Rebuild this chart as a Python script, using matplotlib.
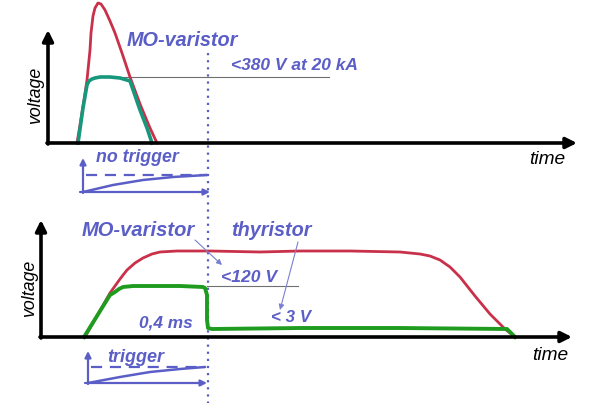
import matplotlib
matplotlib.use("Agg")
import matplotlib.pyplot as plt

W, H = 605, 408
plt.rcParams['font.family'] = ['Liberation Sans', 'DejaVu Sans']

# ---- data (time units / voltage units of each panel) ----
# top panel (no trigger)
top_red_t = [29, 32, 36, 39, 42, 43, 45, 47, 50, 53, 57, 62, 67, 74, 82, 92, 102, 109]
top_red_v = [0, 18, 43, 63, 93, 110, 127, 135, 140, 139, 133, 122, 110, 90, 66, 39, 15, 0]
top_green_t = [30, 35, 39, 41, 44, 47, 52, 62, 72, 82, 92, 99, 104]
top_green_v = [0, 35, 58, 62, 64, 65, 66, 66, 65, 62, 33, 15, 0]
top_ref_t = [59, 281]
top_ref_v = [66, 66]
top_trig_t = [35, 65, 95, 125, 159]
top_trig_v = [-49, -42, -37, -34, -32]
top_trig_level = -32

# bottom panel (trigger)
bot_red_t = [44, 56, 69, 79, 86, 94, 102, 111, 119, 136, 169, 219, 259, 309, 359, 379, 389,
             399, 409, 419, 434, 449, 464, 474]
bot_red_v = [0, 21, 44, 58, 67, 74, 79, 83, 85, 86, 86, 85, 86, 86, 85, 83, 81,
             77, 70, 60, 41, 23, 8, 0]
bot_green_t = [43, 56, 69, 74, 78, 82, 92, 139, 162, 164, 166, 166, 167, 171, 259, 359, 466, 474]
bot_green_v = [0, 21, 42, 45, 48, 50, 51, 51, 50, 49, 42, 17, 9, 8, 9, 9, 8, 0]
bot_ref_t = [166, 257]
bot_ref_v = [51, 51]
bot_trig_t = [47, 79, 109, 139, 164]
bot_trig_v = [-46, -40, -35, -32, -30]
bot_trig_level = -30

RED = '#c9304a'
TEAL = '#17977c'
GREEN = '#1f9c1f'
BLUE = '#5a5ec6'
GRAY = '#707070'

fig = plt.figure(figsize=(W / 100, H / 100), dpi=100)
fig.patch.set_facecolor('white')


def make_axes(left, right, top, base):
    ax = fig.add_axes([left / W, 1 - base / H, (right - left) / W, (base - top) / H])
    ax.set_xlim(0, right - left)
    ax.set_ylim(0, base - top)
    ax.axis('off')
    return ax


def axis_arrows(ax, lw=2.6, ms=16):
    x1, y1 = ax.get_xlim()[1], ax.get_ylim()[1]
    ax.annotate('', xy=(x1, 0), xytext=(-1, 0),
                arrowprops=dict(arrowstyle='-|>', lw=lw, color='black', mutation_scale=ms,
                                shrinkA=0, shrinkB=0), annotation_clip=False)
    ax.annotate('', xy=(0, y1), xytext=(0, -1),
                arrowprops=dict(arrowstyle='-|>', lw=lw, color='black', mutation_scale=ms,
                                shrinkA=0, shrinkB=0), annotation_clip=False)


def trig_inset(ax, t, v, level, x0, x1, ytop):
    kw = dict(arrowstyle='-|>', lw=1.6, color=BLUE, mutation_scale=9, shrinkA=0, shrinkB=0)
    ax.annotate('', xy=(x1, v[0]), xytext=(x0 - 3, v[0]), arrowprops=kw, annotation_clip=False)
    ax.annotate('', xy=(x0, ytop), xytext=(x0, v[0] - 1), arrowprops=kw, annotation_clip=False)
    ax.plot([x0 + 3, t[-1]], [level, level], color=BLUE, lw=1.6, ls=(0, (5, 3.5)), clip_on=False)
    ax.plot(t, v, color=BLUE, lw=1.8, clip_on=False, solid_capstyle='round')


def ftext(x, y, s, **kw):
    fig.text(x / W, 1 - y / H, s, va='center', **kw)


# ---- top panel ----
ax1 = make_axes(48, 577, 30, 143)
axis_arrows(ax1)
ax1.plot(top_ref_t, top_ref_v, color=GRAY, lw=0.8, clip_on=False)
ax1.plot(top_red_t, top_red_v, color=RED, lw=2.0, clip_on=False, solid_joinstyle='round')
ax1.plot(top_green_t, top_green_v, color=TEAL, lw=2.6, clip_on=False, solid_joinstyle='round')
trig_inset(ax1, top_trig_t, top_trig_v, top_trig_level, 35, 162, -15)
# dotted trigger instant line across both panels
ax1.plot([160, 160], [90, -260], color=BLUE, lw=1.6, ls=(0, (1, 2.2)), clip_on=False)

# ---- bottom panel ----
ax2 = make_axes(41, 572, 220, 337)
axis_arrows(ax2)
ax2.plot(bot_ref_t, bot_ref_v, color=GRAY, lw=0.8, clip_on=False)
ax2.plot(bot_red_t, bot_red_v, color=RED, lw=2.0, clip_on=False, solid_joinstyle='round')
ax2.plot(bot_green_t, bot_green_v, color=GREEN, lw=2.8, clip_on=False, solid_joinstyle='round')
trig_inset(ax2, bot_trig_t, bot_trig_v, bot_trig_level, 47, 166, -14)
akw = dict(arrowstyle='-|>', lw=0.8, color='#7a80d0', mutation_scale=8, shrinkA=0, shrinkB=0)
ax2.annotate('', xy=(181, 72), xytext=(154, 97), arrowprops=akw, annotation_clip=False)
ax2.annotate('', xy=(239, 27), xytext=(257, 95), arrowprops=akw, annotation_clip=False)

# ---- texts ----
bi = dict(color=BLUE, fontweight='bold', fontstyle='italic')
ftext(127, 40, 'MO-varistor', fontsize=14.3, **bi)
ftext(231, 65, '<380 V at 20 kA', fontsize=12.5, **bi)
ftext(96, 158, 'no trigger', fontsize=12.8, **bi)
ftext(82, 231, 'MO-varistor', fontsize=14.5, **bi)
ftext(231, 231, 'thyristor', fontsize=14.3, **bi)
ftext(221, 278, '<120 V', fontsize=12.6, **bi)
ftext(271, 317, '< 3 V', fontsize=12.2, **bi)
ftext(139, 323, '0,4 ms', fontsize=12.4, **bi)
ftext(107, 358, 'trigger', fontsize=13, **bi)

ftext(529, 160, 'time', fontsize=13.8, fontstyle='italic', color='black')
ftext(532, 355, 'time', fontsize=13.8, fontstyle='italic', color='black')
fig.text(36 / W, 1 - 95 / H, 'voltage', fontsize=12.8, fontstyle='italic', rotation=90,
         ha='center', va='center')
fig.text(30 / W, 1 - 288 / H, 'voltage', fontsize=12.8, fontstyle='italic', rotation=90,
         ha='center', va='center')

fig.savefig('out.png', dpi=100, facecolor='white')
